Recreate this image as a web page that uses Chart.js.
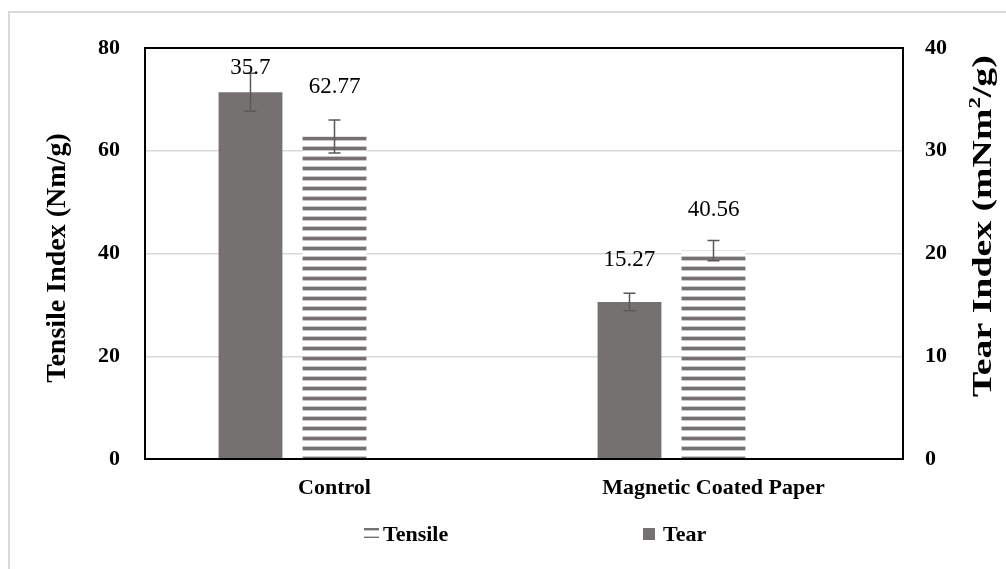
<!DOCTYPE html>
<html>
<head>
<meta charset="utf-8">
<title>Tensile and Tear Index</title>
<script src="https://cdn.jsdelivr.net/npm/chart.js@4/dist/chart.umd.min.js"></script>
<style>
  html, body { margin: 0; padding: 0; background: #fff; overflow: hidden; }
  #wrap { position: relative; width: 1006px; height: 569px; overflow: hidden; }
  #frame { position: absolute; left: 8px; top: 11px; width: 1100px; height: 700px;
           border: 2px solid #d9d9d9; box-sizing: border-box; }
  #c { position: absolute; left: 0; top: 0; }
</style>
</head>
<body>
<div id="wrap">
  <div id="frame"></div>
  <canvas id="c" width="1006" height="569"></canvas>
</div>
<script>
// ---- data ----
const categories = ['Control', 'Magnetic Coated Paper'];
const tensileValues = [62.77, 40.56];
const tensileErrors = [3.2, 1.95];
const tearValues = [35.7, 15.27];
const tearErrors = [1.85, 0.85];
const tensileTicks = [0, 20, 40, 60, 80];
const tearTicks = [0, 10, 20, 30, 40];

// ---- layout / style constants ----
const tensileLabelLift = [50, 41];
const tearLabelLift = [24, 42];
const SERIF = '"Liberation Serif", "Times New Roman", serif';
const BAR_GREY = '#767171';

// horizontal stripe fill for the Tensile series
function makeStripes() {
  const t = document.createElement('canvas');
  t.width = 8; t.height = 10;
  const g = t.getContext('2d');
  g.fillStyle = '#ffffff'; g.fillRect(0, 0, 8, 10);
  g.fillStyle = '#c9c6c6'; g.fillRect(0, 0, 8, 1); g.fillRect(0, 6, 8, 1);
  g.fillStyle = BAR_GREY; g.fillRect(0, 7, 8, 3);
  return g.createPattern(t, 'repeat');
}
const stripes = makeStripes();

// vertical (bottom-to-top) title; pieces are [text, fontSize, raise]
function rotatedText(ctx, pieces, x, y, align, stretch) {
  ctx.save();
  ctx.translate(x, y);
  ctx.rotate(-Math.PI / 2);
  ctx.scale(stretch, 1);
  ctx.fillStyle = '#000';
  ctx.textBaseline = 'middle';
  ctx.textAlign = 'left';
  let total = 0;
  const widths = pieces.map(p => {
    ctx.font = 'bold ' + p[1] + 'px ' + SERIF;
    const w = ctx.measureText(p[0]).width; total += w; return w;
  });
  let cx = align === 'center' ? -total / 2 : 0;
  pieces.forEach((p, i) => {
    ctx.font = 'bold ' + p[1] + 'px ' + SERIF;
    ctx.fillText(p[0], cx, -p[2]);
    cx += widths[i];
  });
  ctx.restore();
}

const overlay = {
  id: 'overlay',
  afterDatasetsDraw(chart) {
    const ctx = chart.ctx;
    const a = chart.chartArea;
    ctx.save();
    // plot frame
    ctx.strokeStyle = '#000';
    ctx.lineWidth = 2;
    ctx.strokeRect(a.left, a.top, a.right - a.left, a.bottom - a.top);

    // error bars and value labels
    chart.data.datasets.forEach((ds, di) => {
      if (!ds.errors) return;
      const meta = chart.getDatasetMeta(di);
      const yScale = chart.scales[ds.yAxisID];
      meta.data.forEach((bar, i) => {
        const v = ds.data[i];
        const e = ds.errors[i];
        const x = bar.x;
        const yt = yScale.getPixelForValue(v + e);
        const yb = yScale.getPixelForValue(v - e);
        ctx.strokeStyle = '#595959';
        ctx.lineWidth = 1.5;
        ctx.beginPath();
        ctx.moveTo(x, yt); ctx.lineTo(x, yb);
        ctx.moveTo(x - 6, yt); ctx.lineTo(x + 6, yt);
        ctx.moveTo(x - 6, yb); ctx.lineTo(x + 6, yb);
        ctx.stroke();

        ctx.fillStyle = '#000';
        ctx.font = '23px ' + SERIF;
        ctx.textAlign = 'center';
        ctx.textBaseline = 'middle';
        ctx.fillText(String(v), x, yScale.getPixelForValue(v) - ds.lift[i]);
      });
    });
    ctx.restore();
  },
  afterDraw(chart) {
    const ctx = chart.ctx;
    // axis titles
    rotatedText(ctx, [['Tensile Index (Nm/g)', 28, 0]], 58, 258, 'center', 1);
    rotatedText(ctx, [['Tear Index (mNm', 28, 0], ['2', 17, 8], ['/g)', 28, 0]], 984, 397, 'left', 1.35);

    // legend
    ctx.save();
    ctx.fillStyle = stripes;
    ctx.fillRect(364, 528, 15, 10);
    ctx.fillStyle = BAR_GREY;
    ctx.fillRect(643, 528, 12, 12);
    ctx.fillStyle = '#000';
    ctx.font = 'bold 22px ' + SERIF;
    ctx.textAlign = 'left';
    ctx.textBaseline = 'alphabetic';
    ctx.fillText('Tensile', 383, 541);
    ctx.fillText('Tear', 663, 541);
    ctx.restore();
  }
};

const tickFont = { family: SERIF, size: 22, weight: 'bold' };

new Chart(document.getElementById('c'), {
  type: 'bar',
  data: {
    labels: categories,
    datasets: [
      { label: 'Tear', data: tearValues, yAxisID: 'yTear', backgroundColor: BAR_GREY,
        errors: tearErrors, lift: tearLabelLift },
      { label: 'Tensile', data: tensileValues, yAxisID: 'yTensile', backgroundColor: stripes,
        errors: tensileErrors, lift: tensileLabelLift },
      // empty slot that keeps the group offset to the left of each category
      { label: '', data: categories.map(() => null), yAxisID: 'yTensile' }
    ]
  },
  options: {
    responsive: false,
    animation: false,
    layout: { padding: { top: 48, bottom: 60, left: 0, right: 0 } },
    datasets: { bar: { categoryPercentage: 0.665, barPercentage: 0.76 } },
    plugins: { legend: { display: false }, tooltip: { enabled: false } },
    scales: {
      x: {
        grid: { display: false, drawTicks: false },
        border: { display: false },
        ticks: { font: tickFont, color: '#000', padding: 16 },
        afterFit(s) { s.height = 50; }
      },
      yTensile: {
        position: 'left', min: 0, max: 80,
        afterBuildTicks(s) { s.ticks = tensileTicks.map(v => ({ value: v })); },
        ticks: { font: tickFont, color: '#000', padding: 25 },
        grid: { color: '#d9d9d9', lineWidth: 1.5, drawTicks: false },
        border: { display: false },
        afterFit(s) { s.width = 145; }
      },
      yTear: {
        position: 'right', min: 0, max: 40,
        afterBuildTicks(s) { s.ticks = tearTicks.map(v => ({ value: v })); },
        ticks: { font: tickFont, color: '#000', padding: 22 },
        grid: { display: false, drawTicks: false },
        border: { display: false },
        afterFit(s) { s.width = 103; }
      }
    }
  },
  plugins: [overlay]
});
</script>
</body>
</html>
